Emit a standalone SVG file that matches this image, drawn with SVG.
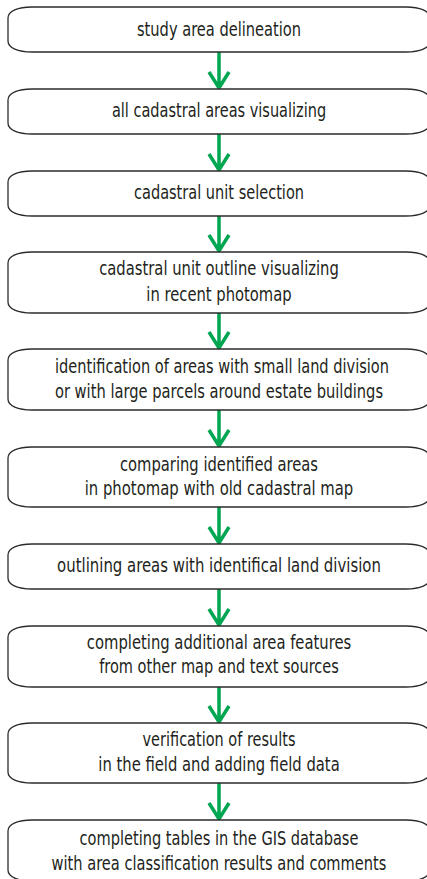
<svg xmlns="http://www.w3.org/2000/svg" width="427" height="879" viewBox="0 0 427 879">
<defs>
<style>
.box{fill:#fff;stroke:#2b2b2b;stroke-width:1.3}
.t{font-family:"Liberation Sans Narrow","DejaVu Sans Condensed","Liberation Sans",sans-serif;font-size:19px;fill:#231f20;text-anchor:middle}
.arr{fill:none;stroke:#00a651;stroke-width:3.5}
</style>
</defs>
<rect width="427" height="879" fill="#fff"/>
<g id="connectors">
<path class="arr" d="M219,52 V88 M209,72 L219,88 L229,72"/>
<path class="arr" d="M219,134 V170 M209,154 L219,170 L229,154"/>
<path class="arr" d="M219,216 V251 M209,235 L219,251 L229,235"/>
<path class="arr" d="M219,313 V348 M209,332 L219,348 L229,332"/>
<path class="arr" d="M219,410 V446 M209,430 L219,446 L229,430"/>
<path class="arr" d="M219,507 V543 M209,527 L219,543 L229,527"/>
<path class="arr" d="M219,589 V625 M209,609 L219,625 L229,609"/>
<path class="arr" d="M219,687 V722 M209,706 L219,722 L229,706"/>
<path class="arr" d="M219,783 V819 M209,803 L219,819 L229,803"/>
</g>
<g id="n1"><path class="box" d="M32,7 H406 C420,7 430,11 430,18 V41 C430,48 420,52 406,52 H32 C18,52 8,48 8,41 V18 C8,11 18,7 32,7 Z"/><g transform="translate(219,0) scale(0.85,1)"><text class="t" x="0" y="36" textLength="193" lengthAdjust="spacingAndGlyphs">study area delineation</text></g></g>
<g id="n2"><path class="box" d="M32,89 H406 C420,89 430,93 430,100 V123 C430,130 420,134 406,134 H32 C18,134 8,130 8,123 V100 C8,93 18,89 32,89 Z"/><g transform="translate(219,0) scale(0.85,1)"><text class="t" x="0" y="117" textLength="252" lengthAdjust="spacingAndGlyphs">all cadastral areas visualizing</text></g></g>
<g id="n3"><path class="box" d="M32,171 H406 C420,171 430,175 430,182 V205 C430,212 420,216 406,216 H32 C18,216 8,212 8,205 V182 C8,175 18,171 32,171 Z"/><g transform="translate(219,0) scale(0.85,1)"><text class="t" x="0" y="199" textLength="200" lengthAdjust="spacingAndGlyphs">cadastral unit selection</text></g></g>
<g id="n4"><path class="box" d="M32,252 H406 C420,252 430,256 430,263 V302 C430,309 420,313 406,313 H32 C18,313 8,309 8,302 V263 C8,256 18,252 32,252 Z"/><g transform="translate(219,0) scale(0.85,1)"><text class="t" x="0" y="275" textLength="282" lengthAdjust="spacingAndGlyphs">cadastral unit outline visualizing</text><text class="t" x="0" y="301" textLength="171" lengthAdjust="spacingAndGlyphs">in recent photomap</text></g></g>
<g id="n5"><path class="box" d="M32,349 H406 C420,349 430,353 430,360 V399 C430,406 420,410 406,410 H32 C18,410 8,406 8,399 V360 C8,353 18,349 32,349 Z"/><g transform="translate(219,0) scale(0.85,1)"><text class="t" x="3.5" y="373" textLength="393" lengthAdjust="spacingAndGlyphs">identification of areas with small land division</text><text class="t" x="0" y="398" textLength="386" lengthAdjust="spacingAndGlyphs">or with large parcels around estate buildings</text></g></g>
<g id="n6"><path class="box" d="M32,447 H406 C420,447 430,451 430,458 V496 C430,503 420,507 406,507 H32 C18,507 8,503 8,496 V458 C8,451 18,447 32,447 Z"/><g transform="translate(219,0) scale(0.85,1)"><text class="t" x="0" y="471" textLength="233" lengthAdjust="spacingAndGlyphs">comparing identified areas</text><text class="t" x="0" y="495" textLength="316" lengthAdjust="spacingAndGlyphs">in photomap with old cadastral map</text></g></g>
<g id="n7"><path class="box" d="M32,544 H406 C420,544 430,548 430,555 V578 C430,585 420,589 406,589 H32 C18,589 8,585 8,578 V555 C8,548 18,544 32,544 Z"/><g transform="translate(219,0) scale(0.85,1)"><text class="t" x="0" y="572" textLength="381" lengthAdjust="spacingAndGlyphs">outlining areas with identifical land division</text></g></g>
<g id="n8"><path class="box" d="M32,626 H406 C420,626 430,630 430,637 V676 C430,683 420,687 406,687 H32 C18,687 8,683 8,676 V637 C8,630 18,626 32,626 Z"/><g transform="translate(219,0) scale(0.85,1)"><text class="t" x="0" y="649" textLength="311" lengthAdjust="spacingAndGlyphs">completing additional area features</text><text class="t" x="0" y="673" textLength="282" lengthAdjust="spacingAndGlyphs">from other map and text sources</text></g></g>
<g id="n9"><path class="box" d="M32,723 H406 C420,723 430,727 430,734 V772 C430,779 420,783 406,783 H32 C18,783 8,779 8,772 V734 C8,727 18,723 32,723 Z"/><g transform="translate(219,0) scale(0.85,1)"><text class="t" x="0" y="746" textLength="180" lengthAdjust="spacingAndGlyphs">verification of results</text><text class="t" x="0" y="771" textLength="284" lengthAdjust="spacingAndGlyphs">in the field and adding field data</text></g></g>
<g id="n10"><path class="box" d="M32,820 H406 C420,820 430,824 430,831 V870 C430,877 420,881 406,881 H32 C18,881 8,877 8,870 V831 C8,824 18,820 32,820 Z"/><g transform="translate(219,0) scale(0.85,1)"><text class="t" x="0" y="845" textLength="328" lengthAdjust="spacingAndGlyphs">completing tables in the GIS database</text><text class="t" x="0" y="870" textLength="394" lengthAdjust="spacingAndGlyphs">with area classification results and comments</text></g></g>
</svg>
